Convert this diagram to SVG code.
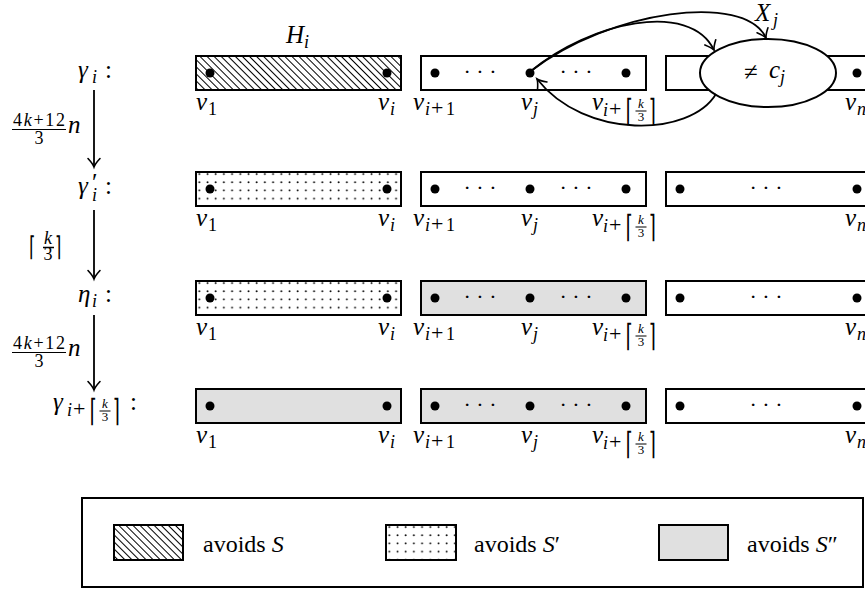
<svg xmlns="http://www.w3.org/2000/svg" width="865" height="592" viewBox="0 0 865 592" font-family="Liberation Serif, Times New Roman, serif">
<style>
.box{fill:none;stroke:#000;stroke-width:2}
.dot{fill:#000}
.m{font-style:italic;font-size:25px}
.s{font-style:italic;font-size:18px}
.ss{font-style:italic;font-size:13px}
.up{font-size:25px}
.ups{font-size:18px}
.upss{font-size:13px}
.pl{font-size:22px}
.br{font-size:31px}
.br2{font-size:27px}
.cd{font-size:22px}
.lg{font-size:24px}
.conn{fill:none;stroke:#000;stroke-width:1.8}
.fb{stroke:#000;stroke-width:1.2}
</style>
<defs>
<pattern id="hatch" patternUnits="userSpaceOnUse" width="10" height="5" patternTransform="rotate(45)">
<line x1="0" y1="2.5" x2="10" y2="2.5" stroke="#000" stroke-width="1"/>
</pattern>
<pattern id="dots" patternUnits="userSpaceOnUse" width="8.2" height="8.2">
<circle cx="3.3" cy="2" r="0.95" fill="#000"/>
</pattern>
<marker id="to" markerUnits="userSpaceOnUse" markerWidth="20" markerHeight="20" refX="0" refY="0" viewBox="-10 -10 20 20" orient="auto" overflow="visible">
<path d="M -8.5 -6 Q -3 -1 0 0 Q -3 1 -8.5 6" fill="none" stroke="#000" stroke-width="1.6" stroke-linecap="round"/>
</marker>
<g id="subk">
<text class="s" x="0" y="0">i</text>
<text class="pl" x="6" y="0">+</text>
<text class="br" font-family="DejaVu Sans, sans-serif" transform="translate(22.5,5) scale(0.6,1)">⌈</text>
<text class="ss" x="38" y="-8" text-anchor="middle">k</text>
<line x1="32.5" y1="-5" x2="43.5" y2="-5" stroke="#000" stroke-width="1"/>
<text class="upss" x="38" y="5" text-anchor="middle">3</text>
<text class="br" font-family="DejaVu Sans, sans-serif" transform="translate(45.5,5) scale(0.6,1)">⌉</text>
</g>
<g id="vlabels">
<text class="m" x="196" y="0">v</text><text class="ups" x="208" y="5">1</text>
<text class="m" x="378" y="0">v</text><text class="s" x="390" y="5">i</text>
<text class="m" x="413" y="0">v</text><text class="s" x="425" y="5">i</text><text class="pl" x="431" y="5">+</text><text class="ups" x="446" y="5">1</text>
<text class="m" x="521" y="0">v</text><text class="s" x="533" y="5">j</text>
<text class="m" x="592" y="0">v</text><use href="#subk" x="603" y="6"/>
<text class="m" x="845" y="0">v</text><text class="s" x="857" y="5">n</text>
</g>
<g id="cd3"><text class="cd" x="0" y="0" text-anchor="middle">· · ·</text></g>
</defs>

<!-- Row 1: gamma_i -->
<g id="row1-label">
<text class="m" x="78" y="78">γ</text><text class="s" x="92" y="83">i</text><text class="up" x="105" y="78">:</text>
</g>
<g id="H-label"><text class="m" x="286" y="43">H</text><text class="s" x="304" y="48">i</text></g>
<g id="row1-box1" transform="translate(196,56)">
<rect width="205" height="34" fill="url(#hatch)"/><rect class="box" width="205" height="34"/>
<circle class="dot" cx="14" cy="17" r="4.5"/><circle class="dot" cx="191" cy="17" r="4.5"/>
</g>
<g id="row1-box2" transform="translate(421,56)">
<rect class="box" width="225" height="34" style="fill:#fff"/>
<circle class="dot" cx="14" cy="17" r="4.5"/><circle class="dot" cx="109" cy="17" r="4.5"/><circle class="dot" cx="205" cy="17" r="4.5"/>
<use href="#cd3" x="59" y="22.5"/><use href="#cd3" x="155" y="22.5"/>
</g>
<g id="row1-box3" transform="translate(666,56)">
<rect class="box" width="214" height="34" style="fill:#fff"/>
<circle class="dot" cx="191" cy="17" r="4.5"/>
</g>
<g id="Xj">
<ellipse cx="768" cy="73" rx="68" ry="34" fill="#fff" stroke="#000" stroke-width="2"/>
<text class="up" x="744" y="80">≠</text><text class="m" x="769" y="78">c</text><text class="s" x="780" y="83">j</text>
<text class="m" x="755" y="21">X</text><text class="s" x="773" y="26">j</text>
</g>
<use href="#vlabels" y="110"/>

<!-- Row 2: gamma'_i -->
<g id="row2-label">
<text class="m" x="78" y="194">γ</text><text class="up" x="92" y="191">′</text><text class="s" x="92" y="201">i</text><text class="up" x="105" y="194">:</text>
</g>
<g id="row2-box1" transform="translate(196,172)">
<rect width="205" height="34" fill="#fff"/><rect width="205" height="34" fill="url(#dots)"/><rect class="box" width="205" height="34"/>
<circle class="dot" cx="14" cy="17" r="4.5"/><circle class="dot" cx="191" cy="17" r="4.5"/>
</g>
<g id="row2-box2" transform="translate(421,172)">
<rect class="box" width="225" height="34" style="fill:#fff"/>
<circle class="dot" cx="14" cy="17" r="4.5"/><circle class="dot" cx="109" cy="17" r="4.5"/><circle class="dot" cx="205" cy="17" r="4.5"/>
<use href="#cd3" x="59" y="22.5"/><use href="#cd3" x="155" y="22.5"/>
</g>
<g id="row2-box3" transform="translate(666,172)">
<rect class="box" width="214" height="34" style="fill:#fff"/>
<circle class="dot" cx="14" cy="17" r="4.5"/><circle class="dot" cx="191" cy="17" r="4.5"/>
<use href="#cd3" x="100" y="22.5"/>
</g>
<use href="#vlabels" y="226"/>

<!-- Row 3: eta_i -->
<g id="row3-label">
<text class="m" x="78" y="302">η</text><text class="s" x="92" y="307">i</text><text class="up" x="105" y="302">:</text>
</g>
<g id="row3-box1" transform="translate(196,281)">
<rect width="205" height="34" fill="#fff"/><rect width="205" height="34" fill="url(#dots)"/><rect class="box" width="205" height="34"/>
<circle class="dot" cx="14" cy="17" r="4.5"/><circle class="dot" cx="191" cy="17" r="4.5"/>
</g>
<g id="row3-box2" transform="translate(421,281)">
<rect class="box" width="225" height="34" style="fill:#e0e0e0"/>
<circle class="dot" cx="14" cy="17" r="4.5"/><circle class="dot" cx="109" cy="17" r="4.5"/><circle class="dot" cx="205" cy="17" r="4.5"/>
<use href="#cd3" x="59" y="22.5"/><use href="#cd3" x="155" y="22.5"/>
</g>
<g id="row3-box3" transform="translate(666,281)">
<rect class="box" width="214" height="34" style="fill:#fff"/>
<circle class="dot" cx="14" cy="17" r="4.5"/><circle class="dot" cx="191" cy="17" r="4.5"/>
<use href="#cd3" x="100" y="22.5"/>
</g>
<use href="#vlabels" y="335"/>

<!-- Row 4: gamma_{i+ceil(k/3)} -->
<g id="row4-label">
<text class="m" x="53" y="410">γ</text><use href="#subk" x="67" y="416"/><text class="up" x="130" y="410">:</text>
</g>
<g id="row4-box1" transform="translate(196,389)">
<rect class="box" width="205" height="34" style="fill:#e0e0e0"/>
<circle class="dot" cx="14" cy="17" r="4.5"/><circle class="dot" cx="191" cy="17" r="4.5"/>
</g>
<g id="row4-box2" transform="translate(421,389)">
<rect class="box" width="225" height="34" style="fill:#e0e0e0"/>
<circle class="dot" cx="14" cy="17" r="4.5"/><circle class="dot" cx="109" cy="17" r="4.5"/><circle class="dot" cx="205" cy="17" r="4.5"/>
<use href="#cd3" x="59" y="22.5"/><use href="#cd3" x="155" y="22.5"/>
</g>
<g id="row4-box3" transform="translate(666,389)">
<rect class="box" width="214" height="34" style="fill:#fff"/>
<circle class="dot" cx="14" cy="17" r="4.5"/><circle class="dot" cx="191" cy="17" r="4.5"/>
<use href="#cd3" x="100" y="22.5"/>
</g>
<use href="#vlabels" y="443"/>

<!-- step labels -->
<g id="step1-label">
<text class="ups" x="13" y="126" textLength="52">4<tspan font-style="italic">k</tspan>+12</text>
<line class="fb" x1="12" y1="129.5" x2="66" y2="129.5"/>
<text class="ups" x="39" y="144" text-anchor="middle">3</text>
<text class="m" x="68" y="133">n</text>
</g>
<g id="step2-label">
<text class="br2" font-family="DejaVu Sans, sans-serif" transform="translate(29,255.5) scale(0.6,1)">⌈</text>
<text class="s" x="48" y="244" text-anchor="middle">k</text>
<line class="fb" x1="43" y1="247.5" x2="54" y2="247.5" style="stroke-width:1.5"/>
<text class="ups" x="48" y="260" text-anchor="middle">3</text>
<text class="br2" font-family="DejaVu Sans, sans-serif" transform="translate(55,255.5) scale(0.6,1)">⌉</text>
</g>
<g id="step3-label">
<text class="ups" x="13" y="349" textLength="52">4<tspan font-style="italic">k</tspan>+12</text>
<line class="fb" x1="12" y1="352.5" x2="66" y2="352.5"/>
<text class="ups" x="39" y="367" text-anchor="middle">3</text>
<text class="m" x="68" y="356">n</text>
</g>

<!-- connectors -->
<g id="connectors">
<line class="conn" x1="94" y1="90" x2="94" y2="167" marker-end="url(#to)"/>
<line class="conn" x1="94" y1="210" x2="94" y2="279" marker-end="url(#to)"/>
<line class="conn" x1="94" y1="315" x2="94" y2="390" marker-end="url(#to)"/>
<path class="conn" d="M 531 71 C 610 10, 745 -8, 766 38" marker-end="url(#to)"/>
<path class="conn" d="M 531 71 C 590 22, 690 0, 714 50" marker-end="url(#to)"/>
<path class="conn" d="M 716 94 C 690 137, 585 140, 537 79" marker-end="url(#to)"/>
</g>

<!-- legend -->
<g id="legend">
<rect x="82" y="498" width="781" height="89" fill="#fff" stroke="#000" stroke-width="2"/>
<rect x="114" y="525" width="69" height="35" fill="url(#hatch)"/>
<rect x="114" y="525" width="69" height="35" class="box"/>
<text class="lg" x="203" y="552">avoids <tspan font-style="italic">S</tspan></text>
<g transform="translate(386,525)"><rect width="70" height="35" fill="url(#dots)"/><rect width="70" height="35" class="box"/></g>
<text class="lg" x="474" y="552">avoids <tspan font-style="italic">S</tspan>′</text>
<rect x="659" y="525" width="69" height="35" class="box" style="fill:#e0e0e0"/>
<text class="lg" x="747" y="552">avoids <tspan font-style="italic">S</tspan>″</text>
</g>
</svg>
